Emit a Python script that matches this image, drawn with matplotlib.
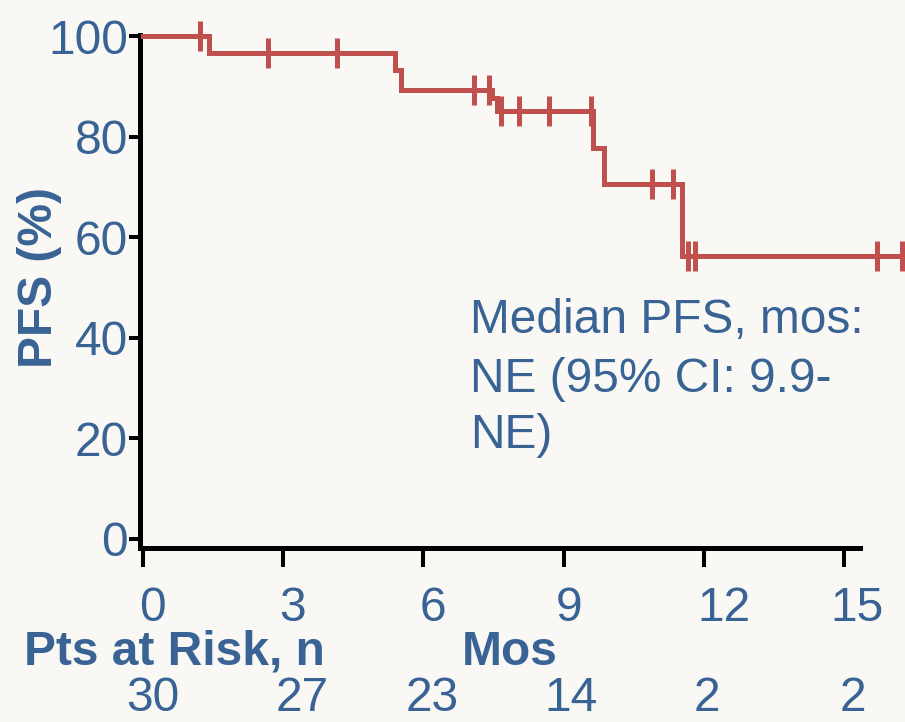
import numpy as np
import matplotlib
matplotlib.use("Agg")
import matplotlib.pyplot as plt
from matplotlib.transforms import ScaledTranslation, blended_transform_factory

# Kaplan-Meier step curve: months at which PFS drops, and the level after each drop (%)
step_months = [0, 1.41, 5.39, 5.51, 7.47, 7.57, 9.62, 9.86, 11.53]
pfs_levels = [100, 96.6, 93.2, 89.3, 87.6, 85.0, 77.7, 70.5, 56.2]
follow_up_end = 16.4

# Censored patients (months)
censor_months = [1.21, 2.67, 4.15, 7.08, 7.40, 7.66, 8.04, 8.69, 9.58,
                 10.88, 11.34, 11.66, 11.82, 15.71, 16.24]

x_ticks = [0, 3, 6, 9, 12, 15]
y_ticks = [0, 20, 40, 60, 80, 100]
at_risk = [30, 27, 23, 14, 2, 2]

median_note = ["Median PFS, mos:", "NE (95% CI: 9.9-", "NE)"]

BLUE = "#386394"
RED = "#C0504D"
BG = "#F9F8F4"
FS = 34.5

plt.rcParams["font.family"] = ["Liberation Sans", "DejaVu Sans"]

W, H = 905, 722
fig = plt.figure(figsize=(W / 100, H / 100), dpi=100, facecolor=BG)
ax = fig.add_axes([140 / W, 1 - 548 / H, 720 / W, 513 / H])
ax.set_facecolor(BG)
ax.set_xlim(-0.064, 15.34)
ax.set_ylim(-1.79, 100.2)

# survival curve
xs = list(step_months) + [follow_up_end]
ys = list(pfs_levels) + [pfs_levels[-1]]
ax.step(xs, ys, where="post", color=RED, lw=3.6, clip_on=False, zorder=3,
        solid_joinstyle="miter")

# censor ticks sit on the curve
idx = np.searchsorted(step_months, censor_months, side="right") - 1
censor_levels = np.asarray(pfs_levels)[idx]
ax.plot(censor_months, censor_levels, ls="none", marker="|", ms=22, mew=3.6,
        color=RED, clip_on=False, zorder=4)

# axes styling
for s in ["top", "right"]:
    ax.spines[s].set_visible(False)
for s in ["left", "bottom"]:
    ax.spines[s].set_linewidth(3.6)
    ax.spines[s].set_color("black")

ax.set_yticks(y_ticks)
ax.set_yticklabels([str(v) for v in y_ticks])
ax.set_xticks(x_ticks)
ax.set_xticklabels([str(v) for v in x_ticks])
ax.tick_params(axis="y", direction="out", length=8, width=2.9, pad=0.5,
               labelsize=FS, labelcolor=BLUE, color="black")
ax.tick_params(axis="x", direction="out", length=13.7, width=2.9, pad=14,
               labelsize=FS, labelcolor=BLUE, color="black")

# nudge month labels to the right of their ticks
label_shift_px = [9, 9, 9, 5, 20, 13]
for tick, dx in zip(ax.xaxis.get_major_ticks(), label_shift_px):
    tick.label1.set_transform(tick.label1.get_transform()
                              + ScaledTranslation(dx / 100, 0, fig.dpi_scale_trans))

fig.text(39.5 / W, 1 - 278 / H, "PFS (%)", rotation=90, ha="center", va="center",
         fontsize=FS, fontweight="bold", color=BLUE)

fig.text(24 / W, 1 - 665 / H, "Pts at Risk, n", ha="left", va="baseline",
         fontsize=FS, fontweight="bold", color=BLUE)
fig.text(510 / W, 1 - 665 / H, "Mos", ha="center", va="baseline",
         fontsize=FS, fontweight="bold", color=BLUE)

# numbers at risk under each month tick
risk_trans = blended_transform_factory(ax.transData, fig.transFigure)
risk_shift_px = [10, 19, 9, 7, 3, 9]
for m, n, dx in zip(x_ticks, at_risk, risk_shift_px):
    ax.text(m, 1 - 711 / H, str(n), ha="center", va="baseline", fontsize=FS,
            color=BLUE, clip_on=False,
            transform=risk_trans + ScaledTranslation(dx / 100, 0, fig.dpi_scale_trans))

# median annotation
for line, base in zip(median_note, [333, 391.5, 448.5]):
    fig.text(470 / W, 1 - base / H, line, ha="left", va="baseline",
             fontsize=FS, color=BLUE)

fig.savefig("out.png", dpi=100, facecolor=BG)
